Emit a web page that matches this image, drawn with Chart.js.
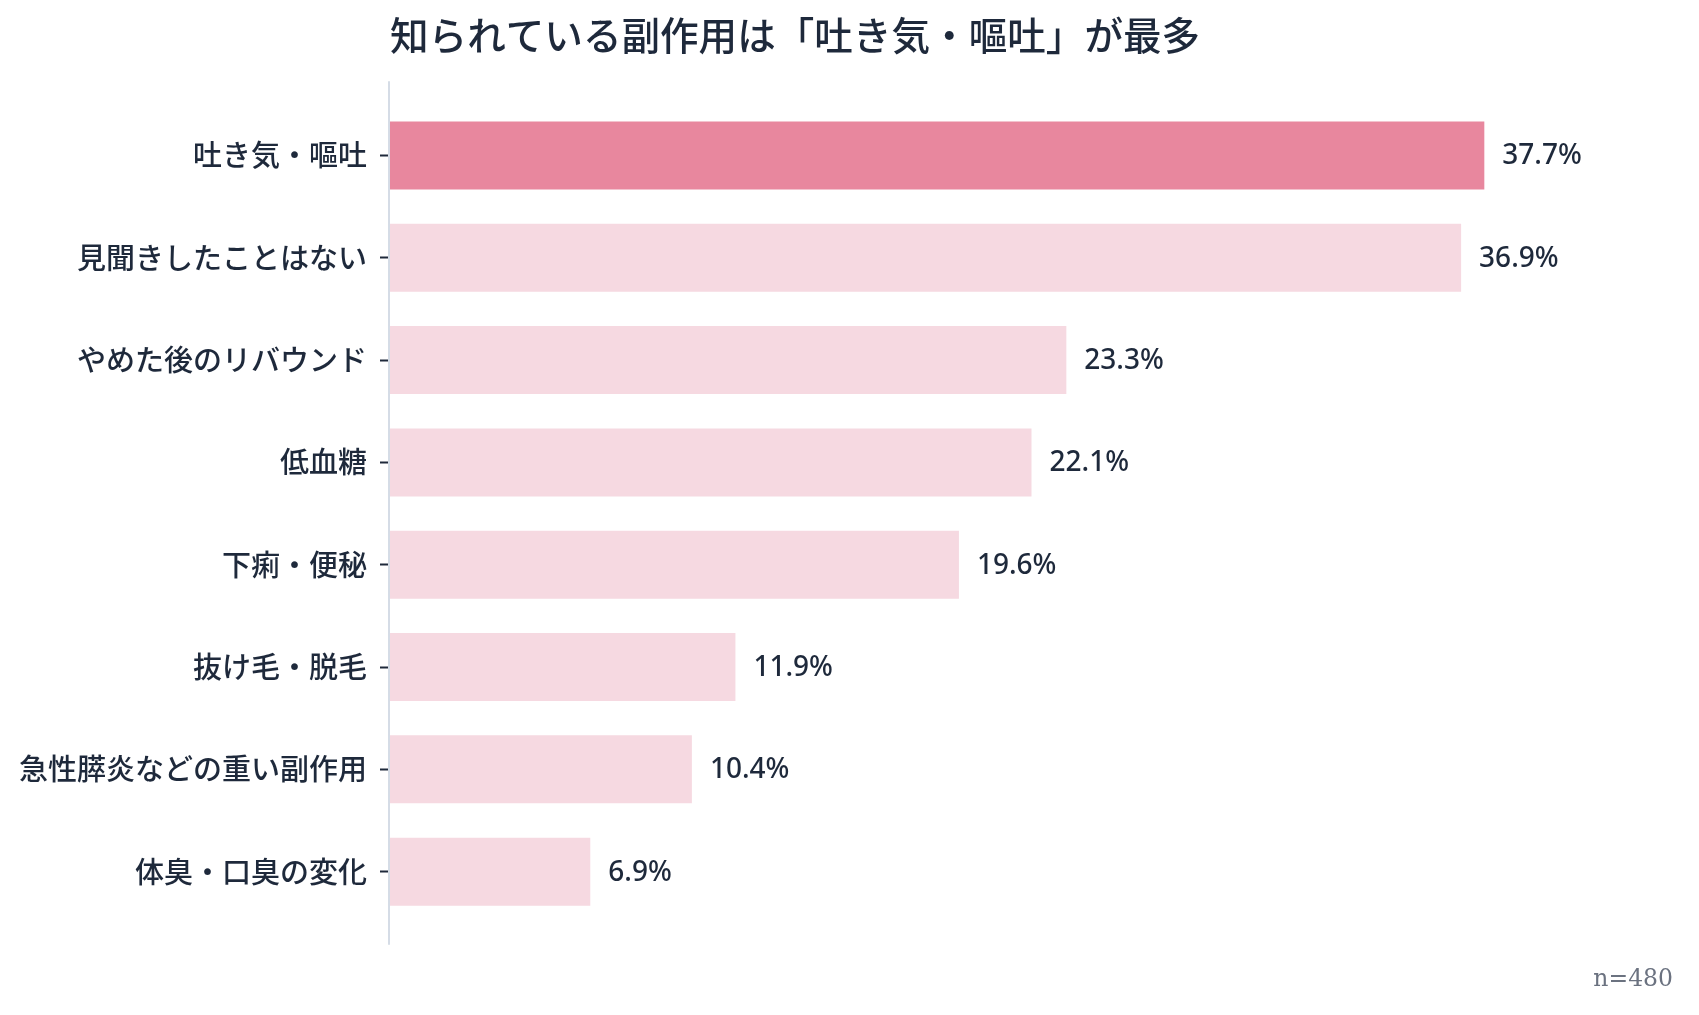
<!DOCTYPE html>
<html>
<head>
<meta charset="utf-8">
<script src="https://cdn.jsdelivr.net/npm/chart.js@4.4.0/dist/chart.umd.min.js"></script>
<style>
  html, body { margin: 0; padding: 0; background: #ffffff; }
  #wrap { width: 1699px; height: 1015px; }
</style>
</head>
<body>
<div id="wrap"><canvas id="c"></canvas></div>
<script>
const categories = [
  "吐き気・嘔吐",
  "見聞きしたことはない",
  "やめた後のリバウンド",
  "低血糖",
  "下痢・便秘",
  "抜け毛・脱毛",
  "急性膵炎などの重い副作用",
  "体臭・口臭の変化"
];
const values = [37.7, 36.9, 23.3, 22.1, 19.6, 11.9, 10.4, 6.9];
const highlightIndex = [0];
const titleText = "知られている副作用は「吐き気・嘔吐」が最多";
const noteText = "n=480";

const TEXT = "#1e293b";
const barColors = values.map((v, i) => highlightIndex.includes(i) ? "#e8879e" : "#f6d9e1");

const axisLine = {
  id: "axisLine",
  afterDatasetsDraw(chart) {
    const a = chart.chartArea;
    const ctx = chart.ctx;
    ctx.save();
    ctx.strokeStyle = "#d5dce6";
    ctx.lineWidth = 2;
    ctx.beginPath();
    ctx.moveTo(a.left - 1, a.top - 23);
    ctx.lineTo(a.left - 1, a.bottom + 22);
    ctx.stroke();
    ctx.restore();
  }
};

const valueLabels = {
  id: "valueLabels",
  afterDatasetsDraw(chart) {
    const ctx = chart.ctx;
    const meta = chart.getDatasetMeta(0);
    ctx.save();
    ctx.font = "500 28px 'Noto Sans', sans-serif";
    ctx.fillStyle = TEXT;
    ctx.textAlign = "left";
    ctx.textBaseline = "middle";
    meta.data.forEach((bar, i) => {
      ctx.fillText(values[i].toFixed(1) + "%", bar.x + 18, bar.y + 1);
    });
    ctx.restore();
  }
};

new Chart(document.getElementById("c"), {
  type: "bar",
  data: {
    labels: categories,
    datasets: [{
      data: values,
      backgroundColor: barColors,
      borderWidth: 0,
      categoryPercentage: 1.0,
      barPercentage: 0.665
    }]
  },
  options: {
    indexAxis: "y",
    responsive: true,
    maintainAspectRatio: false,
    animation: false,
    layout: { padding: { left: 0, right: 26, top: 12, bottom: 21 } },
    scales: {
      x: {
        display: false,
        min: 0,
        max: 44.2
      },
      y: {
        offset: true,
        afterFit(scale) { scale.width = 390; },
        border: { display: false },
        grid: {
          display: true,
          drawOnChartArea: false,
          drawTicks: true,
          tickLength: 10,
          tickWidth: 2,
          tickColor: TEXT,
          offset: false
        },
        ticks: {
          color: TEXT,
          padding: 13,
          font: { family: "'Noto Sans CJK JP', sans-serif", size: 29, weight: "500" }
        }
      }
    },
    plugins: {
      legend: { display: false },
      tooltip: { enabled: false },
      title: {
        display: true,
        text: titleText,
        align: "start",
        fullSize: false,
        color: TEXT,
        font: { family: "'Noto Sans CJK JP', sans-serif", size: 38.6, weight: "500", lineHeight: 1.2 },
        padding: { top: 0, bottom: 46 }
      },
      subtitle: {
        display: true,
        text: noteText,
        position: "bottom",
        align: "end",
        color: "#6b7280",
        font: { family: "'DejaVu Serif', serif", size: 23.5, weight: "400", lineHeight: 1.2 },
        padding: { top: 43, bottom: 0 }
      }
    }
  },
  plugins: [axisLine, valueLabels]
});
</script>
</body>
</html>
